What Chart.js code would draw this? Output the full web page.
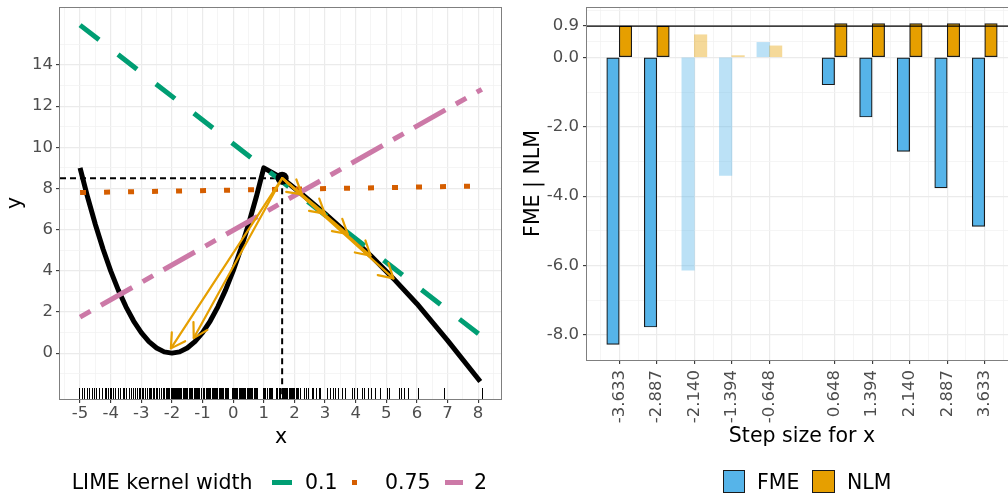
<!DOCTYPE html>
<html>
<head>
<meta charset="utf-8">
<script src="https://cdn.jsdelivr.net/npm/chart.js@4/dist/chart.umd.min.js"></script>
<style>
html,body{margin:0;padding:0;width:1008px;height:496px;overflow:hidden;background:#fff;}
#c1{position:absolute;left:0;top:0;}
#c2{position:absolute;left:505px;top:0;}
.lt{position:absolute;font-family:"DejaVu Sans";font-size:20.5px;line-height:24px;color:#000;white-space:nowrap;}
.sw{position:absolute;}
</style>
</head>
<body>
<canvas id="c1" width="505" height="496"></canvas>
<canvas id="c2" width="512" height="496"></canvas>

<div class="lt" style="left:71.7px;top:470px;">LIME kernel width</div>
<div class="sw" style="left:272px;top:480px;width:20px;height:5px;background:#009E73;"></div>
<div class="lt" style="left:305px;top:470px;">0.1</div>
<div class="sw" style="left:351.7px;top:480px;width:5px;height:5px;background:#D55E00;"></div>
<div class="lt" style="left:385px;top:470px;">0.75</div>
<div class="sw" style="left:445px;top:480px;width:18px;height:5px;background:#CC79A7;"></div>
<div class="lt" style="left:474px;top:470px;">2</div>

<div class="sw" style="left:722.7px;top:470px;width:20.6px;height:20.6px;background:#56B4E9;border:1.2px solid #1a1a1a;"></div>
<div class="lt" style="left:757px;top:470px;">FME</div>
<div class="sw" style="left:812.3px;top:470px;width:20.6px;height:20.6px;background:#E69F00;border:1.2px solid #1a1a1a;"></div>
<div class="lt" style="left:847px;top:470px;">NLM</div>

<script>
// ---------- data ----------
const limeX = [-5, 8.12];
const lime01Y = [15.94, 0.81];
const lime075Y = [7.80, 8.12];
const lime2Y = [1.75, 12.82];

const curveX = [-5,-4.75,-4.5,-4.25,-4,-3.75,-3.5,-3.25,-3,-2.75,-2.5,-2.25,-2,-1.75,-1.5,-1.25,-1,-0.75,-0.5,-0.25,0,0.25,0.5,0.75,1,1.6,2.25,3,3.74,4.49,5.23,6,7,8.07];
const curveY = [9,7.56,6.25,5.06,4,3.06,2.25,1.56,1,0.56,0.25,0.06,0,0.06,0.25,0.56,1,1.56,2.25,3.06,4,5.06,6.25,7.56,9,8.5,7.72,6.78,5.79,4.74,3.63,2.4,0.62,-1.38];

const pointX = [1.6];
const pointY = [8.5];

const stepSizes = [-3.633,-2.887,-2.140,-1.394,-0.648,0.648,1.394,2.140,2.887,3.633];
const fmeValues = [-8.27,-7.77,-6.13,-3.40,0.43,-0.79,-1.72,-2.71,-3.76,-4.87];
const nlmValues = [0.90,0.90,0.65,0.05,0.33,0.97,0.97,0.97,0.97,0.97];
const stepValid = [true,true,false,false,false,true,true,true,true,true];
const nlmThreshold = [0.9];

const rugX = [-5.02,-4.95,-4.87,-4.76,-4.70,-4.62,-4.54,-4.48,-4.38,-4.29,-4.19,-4.15,-4.08,-4.02,-3.98,-3.93,-3.85,-3.77,-3.69,-3.60,-3.55,-3.50,-3.39,-3.33,-3.26,-3.20,-3.14,-3.09,-3.04,-2.99,-2.95,-2.88,-2.80,-2.76,-2.71,-2.67,-2.62,-2.58,-2.53,-2.49,-2.43,-2.36,-2.30,-2.25,-2.20,-2.16,-2.12,-2.08,-2.04,-2.00,-1.96,-1.93,-1.90,
  -1.87,-1.83,-1.80,-1.76,-1.73,-1.69,-1.64,-1.61,-1.57,-1.53,-1.50,-1.45,-1.42,-1.38,-1.33,-1.29,-1.26,-1.21,-1.17,-1.14,-1.10,-1.05,-0.98,-0.94,-0.90,-0.86,-0.82,-0.79,-0.75,-0.70,-0.67,-0.63,-0.59,-0.55,-0.52,-0.47,-0.44,-0.40,-0.36,-0.32,-0.28,-0.24,-0.21,-0.17,-0.05,-0.02,0.03,0.06,0.10,0.14,0.18,0.21,0.25,0.29,0.33,0.37,0.40,0.44,0.48,0.52,0.55,0.59,0.63,0.67,0.71,0.74,0.78,0.97,1.01,1.05,1.09,1.16,1.20,1.24,1.28,1.39,1.43,1.50,1.54,1.58,1.62,1.66,1.69,1.73,1.77,1.81,1.85,1.88,1.92,1.96,2.00,2.04,2.08,2.13,2.18,
  2.30,2.39,2.46,2.57,2.62,2.71,2.79,2.84,3.06,3.17,3.26,3.33,3.44,3.55,3.66,3.88,3.95,4.04,4.21,4.28,4.39,4.50,4.64,4.80,5.02,5.08,5.42,5.49,5.57,5.71,6.04,6.90,8.13];

const xTicksLeft = [-5,-4,-3,-2,-1,0,1,2,3,4,5,6,7,8];
const yTicksLeft = [0,2,4,6,8,10,12,14];
const yTicksRight = [-8,-6,-4,-2,0,0.9];

// ---------- styling helpers ----------
const FONT = 'DejaVu Sans';
const TICK_FONT = {family: FONT, size: 16.5};
const TITLE_FONT = {family: FONT, size: 20.5};
const FME_COL = '#56B4E9', NLM_COL = '#E69F00';
const FME_FADE = 'rgba(86,180,233,0.4)', NLM_FADE = 'rgba(230,159,0,0.4)';

function withMinors(majors, lo, hi) {
  const out = majors.map(v => ({value: v, minor: false}));
  for (let i = 0; i < majors.length - 1; i++) out.push({value: (majors[i] + majors[i+1]) / 2, minor: true});
  const n = majors.length;
  const first = majors[0] - (majors[1] - majors[0]) / 2;
  const last = majors[n-1] + (majors[n-1] - majors[n-2]) / 2;
  if (first >= lo) out.push({value: first, minor: true});
  if (last <= hi) out.push({value: last, minor: true});
  return out.sort((a, b) => a.value - b.value);
}
function noPad(s) { s.paddingLeft = 0; s.paddingRight = 0; s.paddingTop = 0; s.paddingBottom = 0; }
const isMinor = c => !!(c.tick && c.tick.minor);
const gridOpts = {
  color: c => isMinor(c) ? '#F3F3F3' : '#EBEBEB',
  lineWidth: c => isMinor(c) ? 0.8 : 1.2,
  drawTicks: true,
  tickLength: 4,
  tickColor: c => isMinor(c) ? 'rgba(0,0,0,0)' : '#333333',
  tickWidth: c => isMinor(c) ? 0 : 1.1
};
function borderPlugin(id) {
  return {
    id: id,
    afterDraw(chart) {
      const a = chart.chartArea, ctx = chart.ctx;
      ctx.save();
      ctx.strokeStyle = '#7F7F7F';
      ctx.lineWidth = 1;
      ctx.strokeRect(Math.round(a.left) - 0.5, Math.round(a.top) + 0.5, Math.round(a.right - a.left), Math.round(a.bottom - a.top));
      ctx.restore();
    }
  };
}

const pts = (xs, ys) => xs.map((x, i) => ({x: x, y: ys[i]}));

// ---------- left chart ----------
const leftExtras = {
  id: 'leftExtras',
  beforeDatasetsDraw(chart) {
    const ctx = chart.ctx, xs = chart.scales.x, ys = chart.scales.y, a = chart.chartArea;
    ctx.save();
    ctx.strokeStyle = '#000';
    ctx.lineWidth = 1;
    rugX.forEach(v => {
      const p = Math.round(xs.getPixelForValue(v)) + 0.5;
      ctx.beginPath(); ctx.moveTo(p, a.bottom); ctx.lineTo(p, a.bottom - 11); ctx.stroke();
    });
    const px = xs.getPixelForValue(pointX[0]), py = ys.getPixelForValue(pointY[0]);
    ctx.setLineDash([6, 4]);
    ctx.lineWidth = 2;
    ctx.beginPath(); ctx.moveTo(a.left, py); ctx.lineTo(px, py); ctx.stroke();
    ctx.beginPath(); ctx.moveTo(px, py); ctx.lineTo(px, a.bottom); ctx.stroke();
    ctx.restore();
  },
  afterDatasetsDraw(chart) {
    const ctx = chart.ctx, xs = chart.scales.x, ys = chart.scales.y;
    ctx.save();
    ctx.strokeStyle = '#E69F00';
    ctx.lineWidth = 2.2;
    ctx.lineJoin = 'round';
    ctx.lineCap = 'round';
    const x1 = xs.getPixelForValue(pointX[0]), y1 = ys.getPixelForValue(pointY[0]);
    stepSizes.forEach((h, i) => {
      if (!stepValid[i]) return;
      const x2 = xs.getPixelForValue(pointX[0] + h);
      const y2 = ys.getPixelForValue(pointY[0] + fmeValues[i]);
      ctx.beginPath(); ctx.moveTo(x1, y1); ctx.lineTo(x2, y2); ctx.stroke();
      const ang = Math.atan2(y2 - y1, x2 - x1), len = 16, spread = Math.PI / 6;
      ctx.beginPath();
      ctx.moveTo(x2 - len * Math.cos(ang - spread), y2 - len * Math.sin(ang - spread));
      ctx.lineTo(x2, y2);
      ctx.lineTo(x2 - len * Math.cos(ang + spread), y2 - len * Math.sin(ang + spread));
      ctx.stroke();
    });
    ctx.restore();
  }
};

new Chart(document.getElementById('c1'), {
  type: 'scatter',
  data: {
    datasets: [
      {label: 'f', data: pts(curveX, curveY), showLine: true, borderColor: '#000', backgroundColor: '#000', borderWidth: 5, pointRadius: 0, tension: 0, borderJoinStyle: 'round', order: 10},
      {label: '0.1', data: pts(limeX, lime01Y), showLine: true, borderColor: '#009E73', borderWidth: 5, borderDash: [24, 24], borderCapStyle: 'butt', pointRadius: 0, order: 9},
      {label: '0.75', data: pts(limeX, lime075Y), showLine: true, borderColor: '#D55E00', borderWidth: 5, borderDash: [6, 18], borderCapStyle: 'butt', pointRadius: 0, order: 8},
      {label: '2', data: pts(limeX, lime2Y), showLine: true, borderColor: '#CC79A7', borderWidth: 5, borderDash: [12, 12, 36, 12], borderCapStyle: 'butt', pointRadius: 0, order: 7},
      {label: 'x0', data: pts(pointX, pointY), showLine: false, backgroundColor: '#000', borderWidth: 0, pointRadius: 6.5, order: 5}
    ]
  },
  options: {
    responsive: false,
    animation: false,
    events: [],
    layout: {padding: {top: 7, right: 3, left: 0, bottom: 0}, autoPadding: false},
    plugins: {legend: {display: false}, tooltip: {enabled: false}},
    scales: {
      x: {
        type: 'linear', min: -5.655, max: 8.78, bounds: 'data',
        afterBuildTicks: s => { s.ticks = withMinors(xTicksLeft, -5.655, 8.78); },
        afterFit: s => { s.height = 97; noPad(s); },
        ticks: {autoSkip: false, maxRotation: 0, minRotation: 0, padding: 1, color: '#4D4D4D', font: TICK_FONT,
                callback: (v, i, t) => t[i] && t[i].minor ? '' : String(v)},
        grid: gridOpts,
        border: {display: false},
        title: {display: true, text: 'x', color: '#000', font: TITLE_FONT, padding: {top: 0, bottom: 45.6}}
      },
      y: {
        type: 'linear', min: -2.23, max: 16.82, bounds: 'data',
        afterBuildTicks: s => { s.ticks = withMinors(yTicksLeft, -2.23, 16.82); },
        afterFit: s => { s.width = 60; noPad(s); },
        ticks: {autoSkip: false, padding: 3, color: '#4D4D4D', font: TICK_FONT,
                callback: (v, i, t) => t[i] && t[i].minor ? '' : String(v)},
        grid: gridOpts,
        border: {display: false},
        title: {display: true, text: 'y', color: '#000', font: TITLE_FONT, padding: {top: 3, bottom: 0}}
      }
    }
  },
  plugins: [leftExtras, borderPlugin('leftBorder')]
});

// ---------- right chart ----------
const hlinePlugin = {
  id: 'hline',
  afterDatasetsDraw(chart) {
    const ctx = chart.ctx, a = chart.chartArea, ys = chart.scales.y;
    ctx.save();
    ctx.strokeStyle = '#000';
    ctx.lineWidth = 1.3;
    nlmThreshold.forEach(v => {
      const p = ys.getPixelForValue(v);
      ctx.beginPath(); ctx.moveTo(a.left, p); ctx.lineTo(a.right, p); ctx.stroke();
    });
    ctx.restore();
  }
};

new Chart(document.getElementById('c2'), {
  type: 'bar',
  data: {
    datasets: [
      {label: 'FME', data: pts(stepSizes, fmeValues),
       backgroundColor: stepValid.map(v => v ? FME_COL : FME_FADE),
       borderColor: '#1a1a1a', borderWidth: stepValid.map(v => v ? 1.2 : 0), borderSkipped: false, barThickness: 12.5},
      {label: 'NLM', data: pts(stepSizes, nlmValues),
       backgroundColor: stepValid.map(v => v ? NLM_COL : NLM_FADE),
       borderColor: '#1a1a1a', borderWidth: stepValid.map(v => v ? 1.2 : 0), borderSkipped: false, barThickness: 12.5}
    ]
  },
  options: {
    responsive: false,
    animation: false,
    events: [],
    layout: {padding: {top: 7, right: 0, left: 0, bottom: 0}, autoPadding: false},
    plugins: {legend: {display: false}, tooltip: {enabled: false}},
    scales: {
      x: {
        type: 'linear', min: -4.274, max: 4.274, bounds: 'data', offset: false,
        afterBuildTicks: s => { s.ticks = withMinors(stepSizes, -4.274, 4.274); },
        afterFit: s => { s.height = 136; noPad(s); },
        ticks: {autoSkip: false, maxRotation: 90, minRotation: 90, padding: 6, color: '#4D4D4D', font: TICK_FONT,
                callback: (v, i, t) => t[i] && t[i].minor ? '' : v.toFixed(3)},
        grid: Object.assign({}, gridOpts, {offset: false}),
        border: {display: false},
        title: {display: true, text: 'Step size for x', color: '#000', font: TITLE_FONT, padding: {top: 0, bottom: 47.5}}
      },
      y: {
        type: 'linear', min: -8.72, max: 1.45, bounds: 'data',
        afterBuildTicks: s => { s.ticks = withMinors(yTicksRight, -8.72, 1.45); },
        afterFit: s => { s.width = 82; noPad(s); },
        ticks: {autoSkip: false, padding: 4, color: '#4D4D4D', font: TICK_FONT,
                callback: (v, i, t) => t[i] && t[i].minor ? '' : v.toFixed(1)},
        grid: gridOpts,
        border: {display: false},
        title: {display: true, text: 'FME | NLM', color: '#000', font: TITLE_FONT, padding: {top: 16.6, bottom: 0}}
      }
    }
  },
  plugins: [hlinePlugin, borderPlugin('rightBorder')]
});
</script>
</body>
</html>
